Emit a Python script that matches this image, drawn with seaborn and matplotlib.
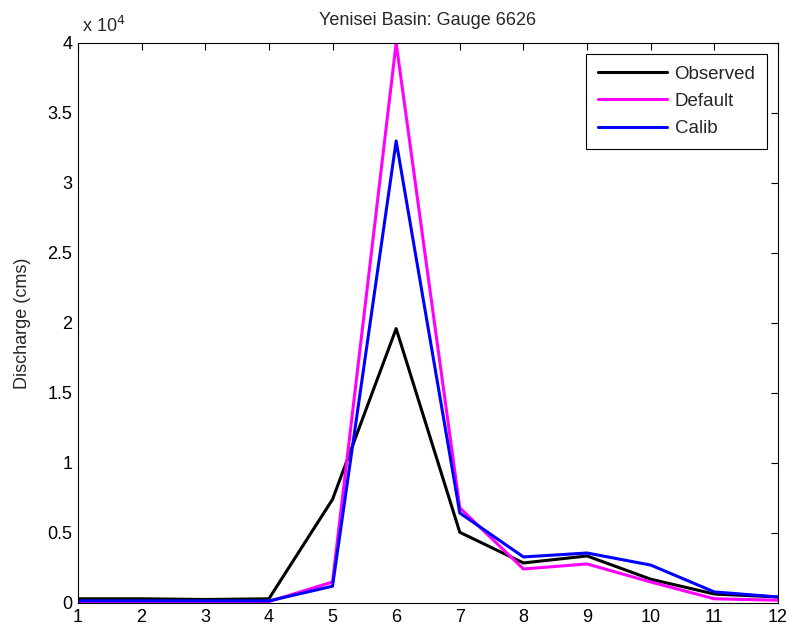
import pandas as pd
import matplotlib
matplotlib.use("Agg")
import matplotlib.pyplot as plt
import seaborn as sns
from matplotlib.ticker import FuncFormatter

months = [1, 2, 3, 4, 5, 6, 7, 8, 9, 10, 11, 12]
observed = [300, 300, 250, 300, 7400, 19600, 5050, 2860, 3360, 1700, 640, 430]
default = [100, 100, 100, 100, 1500, 40000, 6800, 2430, 2790, 1500, 300, 200]
calib = [150, 150, 150, 150, 1200, 33000, 6430, 3290, 3570, 2710, 790, 430]

df = pd.DataFrame({
    "month": months * 3,
    "Q": observed + default + calib,
    "series": ["Observed"] * 12 + ["Default"] * 12 + ["Calib"] * 12,
})

sns.set_style("white")
plt.rcParams["font.family"] = ["Liberation Sans", "DejaVu Sans"]

fig = plt.figure(figsize=(7.86, 6.33), dpi=100)
ax = fig.add_axes([0.0992, 0.0474, 0.8906, 0.8847])

sns.lineplot(data=df, x="month", y="Q", hue="series",
             hue_order=["Observed", "Default", "Calib"],
             palette=["black", "#ff00ff", "#0000ff"],
             linewidth=2.2, ax=ax)

ax.set_xlim(1, 12)
ax.set_ylim(0, 40000)
ax.set_xticks(months)
ax.set_yticks([i * 5000 for i in range(9)])
ax.yaxis.set_major_formatter(FuncFormatter(lambda v, p: "%g" % (v / 1e4)))
ax.tick_params(direction="in", top=True, right=True, length=5, width=0.8,
               labelsize=13, colors="black", pad=4)
for s in ax.spines.values():
    s.set_color("black")
    s.set_linewidth(0.8)

ax.set_xlabel("")
ax.set_ylabel("Discharge (cms)", fontsize=13, labelpad=12)
ax.set_title("Yenisei Basin: Gauge 6626", fontsize=13, pad=13)
fig.text(0.104, 0.943, r"x 10$^{4}$", fontsize=13, ha="left", va="bottom")

leg = ax.legend(loc="upper right", fontsize=13.5, frameon=True, fancybox=False,
                framealpha=1, edgecolor="black", handlelength=3.7,
                handletextpad=0.4, borderpad=0.6, labelspacing=0.55,
                borderaxespad=0.6)
leg.get_frame().set_linewidth(0.8)

fig.savefig("out.png", dpi=100)
